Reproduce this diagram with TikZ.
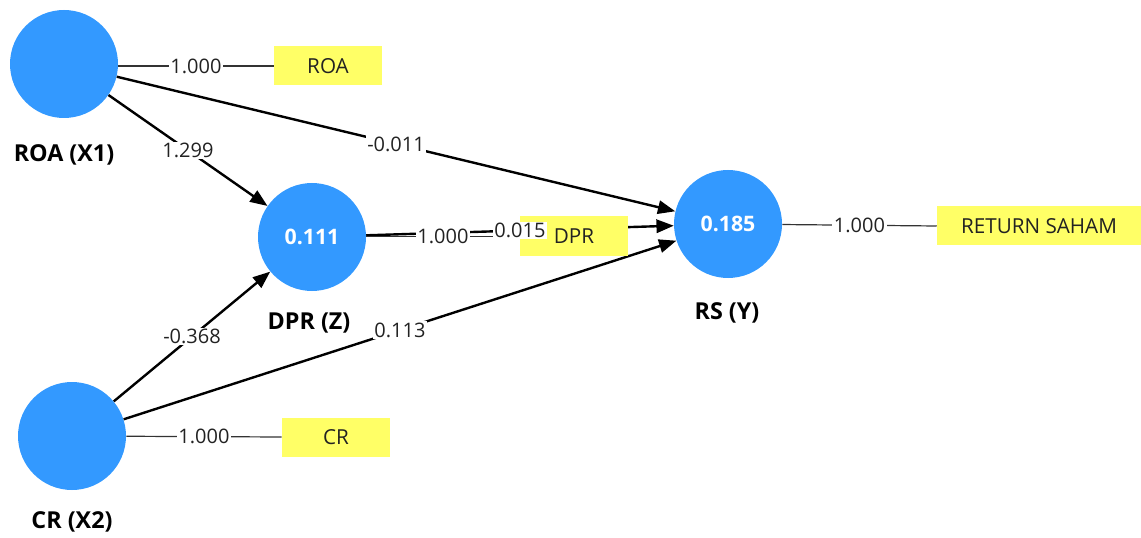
\documentclass[tikz,border=0pt]{standalone}
\usepackage{fontspec}
\setmainfont{Open Sans}
\usetikzlibrary{arrows.meta}
\definecolor{lvblue}{HTML}{3399FF}
\definecolor{indyellow}{HTML}{FFFF66}
\definecolor{txtdark}{HTML}{222222}
\tikzset{
  latent/.style={circle, fill=lvblue, minimum size=108*0.75pt, inner sep=0pt, text=white, font=\fontsize{16}{18}\selectfont\bfseries},
  indicator/.style={fill=indyellow, minimum width=108*0.75pt, minimum height=39*0.75pt, inner sep=0pt, text=txtdark, font=\fontsize{15.5}{17}\selectfont},
  lvname/.style={font=\fontsize{17.5}{19}\selectfont\bfseries, text=black},
  pathline/.style={draw=black, line width=1.8pt, -{Triangle[length=13pt,width=10pt]}},
  loadline/.style={draw=black!80, line width=0.9pt},
  elabel/.style={fill=white, inner sep=1.2pt, text=txtdark, font=\fontsize{15}{17}\selectfont},
}
\begin{document}
\begin{tikzpicture}[x=0.75pt, y=-0.75pt]
\useasboundingbox (0,0) rectangle (1141,538);
% latent variables
\node[latent] (roa) at (64,64) {};
\node[latent] (cr) at (72,436) {};
\node[latent] (dpr) at (312,237) {0.111};
\node[latent] (rs) at (728,224) {0.185};
% names
\node[lvname] (roaname) at (64,155) {ROA (X1)};
\node[lvname] (crname) at (72,522) {CR (X2)};
\node[lvname] (dprname) at (309,323) {DPR (Z)};
\node[lvname] (rsname) at (727,313) {RS (Y)};
% structural paths (lines first, labels later)
\draw[pathline] (roa) -- coordinate[pos=0.5] (m1) (dpr);
\draw[pathline] (roa) -- coordinate[pos=0.5] (m2) (rs);
\draw[pathline] (cr) -- coordinate[pos=0.5] (m3) (dpr);
\draw[pathline] (cr) -- coordinate[pos=0.5] (m4) (rs);
\draw[pathline] (dpr) -- coordinate[pos=0.5] (m5) (rs);
% indicators
\node[indicator] (roab) at (328,66) {ROA};
\node[indicator] (crb) at (336,437) {CR};
\node[indicator] (dprb) at (574,236) {DPR};
\node[indicator, minimum width=204*0.75pt] (rsb) at (1039,226) {RETURN SAHAM};
% loadings
\draw[loadline] (roa.east |- roab) -- node[elabel] {1.000} (roab.west);
\draw[loadline] (cr) -- node[elabel] {1.000} (crb.west);
\draw[loadline] (rs) -- node[elabel] {1.000} (rsb.west);
\draw[loadline] (dpr.east) ++(0,-0.5) coordinate (dprout) (dprout) -- node[elabel] {1.000} (dprb.west |- dprout);
% path coefficients
\node[elabel] (l1) at (m1) {1.299};
\node[elabel] (l2) at (m2) {-0.011};
\node[elabel] (l3) at (m3) {-0.368};
\node[elabel] (l4) at (m4) {0.113};
\node[elabel] (l5) at (m5) {0.015};
\end{tikzpicture}
\end{document}
